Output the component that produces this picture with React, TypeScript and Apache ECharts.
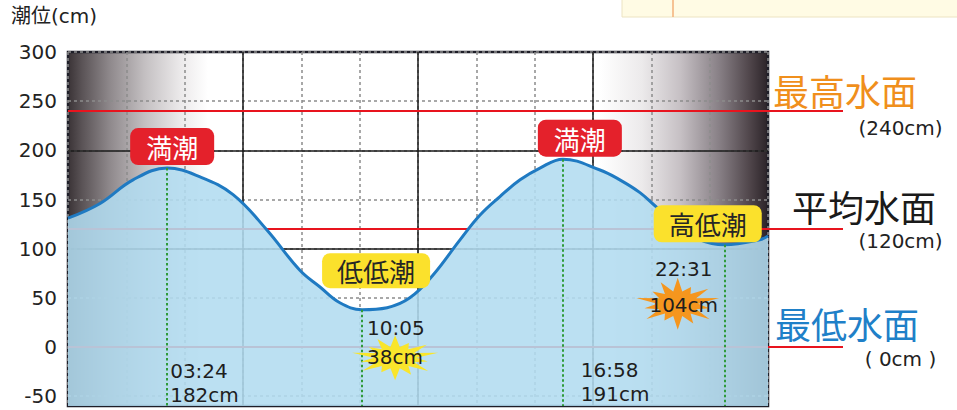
import React, { useEffect, useRef } from 'react';
import * as echarts from 'echarts';

// ---------- data ----------
const yTicks = [-50, 0, 50, 100, 150, 200, 250, 300];
const curveHours = [0, 1.1, 2.23, 4.53, 5.66, 6.82, 7.95, 8.64, 9.32, 10.94, 11.72, 12.51, 13.44, 14.12, 14.81, 15.5, 16.18, 18.24, 18.92, 19.61, 20.19, 20.98, 21.67, 23.72, 24];
const curveLevels = [131, 146, 170, 173, 155, 119, 78, 61, 45, 40, 50, 73, 109, 134, 153, 170, 182, 180, 170, 157, 142, 124, 109, 109, 113];
const extremeTimes = ['03:24', '10:05', '16:58', '22:31'];
const extremeLevels = [182, 38, 191, 104];
const extremeNames = ['満潮', '低低潮', '満潮', '高低潮'];
const datumNames = ['最高水面', '平均水面', '最低水面'];
const datumLevels = [240, 120, 0];
const datumNotes = ['(240cm)', '(120cm)', '( 0cm )'];
const solidHourLines = [6, 12, 18];
const solidLevelLines = [100, 200];

// ---------- styles ----------
const FONT_NUM = "'DejaVu Sans', 'Noto Sans CJK JP', sans-serif";
const FONT_CJK = "'Noto Sans CJK JP', 'Noto Sans CJK SC', sans-serif";
const RED = '#e8141e';

const nameBoxStyles = [
  { bg: '#e4212b', color: '#ffffff', offset: [5, -21.5], padding: [5, 16] },
  { bg: '#fbe12c', color: '#262626', offset: [14, -39], padding: [4, 15] },
  { bg: '#e4212b', color: '#ffffff', offset: [17, -21], padding: [5, 16] },
  { bg: '#fbe12c', color: '#262626', offset: [-17, -21], padding: [5, 15] },
];
const timeLabelStyles = [
  { offset: [3, 190.5], align: 'left', lineHeight: 24 },
  { offset: [5, 3.5], align: 'left', lineHeight: 29 },
  { offset: [18, 199], align: 'left', lineHeight: 24 },
  { offset: [-41, 6], align: 'center', lineHeight: 36 },
];
const starStyles: Record<number, { color: string; size: number[]; offset: number[] }> = {
  1: { color: '#f9e52b', size: [86, 45], offset: [33, 48] },
  3: { color: '#f5961e', size: [83, 52], offset: [-47, 59] },
};
const datumStyles = [
  { color: '#f08f1c', dx: 5, dy: -21, noteDy: 16.5 },
  { color: '#1a1a1a', dx: 24, dy: -23.5, noteDy: 12 },
  { color: '#1f80c8', dx: 7, dy: -24.5, noteDy: 12 },
];

function starPath(radii: number[], inner: number) {
  const n = radii.length;
  let d = '';
  for (let i = 0; i < n; i++) {
    const a0 = (i / n) * Math.PI * 2 - Math.PI / 2;
    const a1 = ((i + 0.5) / n) * Math.PI * 2 - Math.PI / 2;
    const ox = 50 + radii[i] * Math.cos(a0);
    const oy = 50 + radii[i] * Math.sin(a0);
    const ix = 50 + inner * Math.cos(a1);
    const iy = 50 + inner * Math.sin(a1);
    d += (i === 0 ? 'M' : 'L') + ox.toFixed(1) + ' ' + oy.toFixed(1) + 'L' + ix.toFixed(1) + ' ' + iy.toFixed(1);
  }
  return 'path://' + d + 'Z';
}
const STAR = starPath([50, 36, 46, 50, 38, 48, 42, 50, 36, 47, 40, 50, 38, 46], 24);

const toHours = (s: string) => {
  const [h, m] = s.split(':').map(Number);
  return h + m / 60;
};

const extremes = extremeTimes.map((t, i) => ({ t, h: toHours(t), v: extremeLevels[i], name: extremeNames[i] }));
const tidePoints = [
  ...curveHours.map((h, i) => [h, curveLevels[i]]),
  ...extremes.map((e) => [e.h, e.v]),
].sort((a, b) => a[0] - b[0]);

const ghost = (name: string, z: number) => ({
  name,
  type: 'line',
  data: tidePoints,
  z,
  silent: true,
  showSymbol: false,
  symbol: 'none',
  lineStyle: { opacity: 0, width: 0 },
  tooltip: { show: false },
});

export default function App() {
  const ref = useRef<HTMLDivElement>(null);
  useEffect(() => {
    const chart = echarts.init(ref.current!, null, { renderer: 'svg' });
    const bgGradient = new echarts.graphic.LinearGradient(0, 0, 1, 0, [
      { offset: 0, color: '#3a3336' },
      { offset: 0.02, color: '#5a5356' },
      { offset: 0.06, color: '#8f898c' },
      { offset: 0.11, color: '#c4c0c2' },
      { offset: 0.16, color: '#ebe9ea' },
      { offset: 0.2, color: '#ffffff' },
      { offset: 0.76, color: '#ffffff' },
      { offset: 0.82, color: '#eceaeb' },
      { offset: 0.875, color: '#c6c0c4' },
      { offset: 0.93, color: '#888086' },
      { offset: 0.975, color: '#4e4449' },
      { offset: 1, color: '#2b2328' },
    ]);

    const option: any = {
      animation: false,
      backgroundColor: '#ffffff',
      title: {
        text: '潮位(cm)',
        left: 11,
        top: 6,
        padding: 0,
        textStyle: { fontSize: 20, fontWeight: 'normal', color: '#222', fontFamily: FONT_NUM },
      },
      grid: {
        left: 68,
        right: 189,
        top: 52,
        bottom: 4,
        show: true,
        backgroundColor: bgGradient,
        borderColor: '#1e1e28',
        borderWidth: 2.5,
      },
      xAxis: {
        type: 'value',
        min: 0,
        max: 24,
        interval: 2,
        axisLabel: { show: false },
        axisTick: { show: false },
        axisLine: { show: false },
        splitLine: { show: true, lineStyle: { color: '#8c8c8c', type: [3, 3], width: 1.5 } },
      },
      yAxis: {
        type: 'value',
        min: -60,
        max: 300,
        axisLabel: {
          customValues: yTicks,
          fontSize: 20,
          color: '#222',
          fontFamily: FONT_NUM,
          margin: 11,
        },
        axisTick: { show: false, customValues: yTicks },
        axisLine: { show: false },
        splitLine: { show: true, lineStyle: { color: '#8c8c8c', type: [3, 3], width: 1.5 } },
      },
      series: [
        {
          ...ghost('grid', 1),
          markLine: {
            silent: true,
            z: 1,
            symbol: ['none', 'none'],
            label: { show: false },
            data: [
              ...solidLevelLines.map((v) => ({ yAxis: v, lineStyle: { color: '#1a1a1a', width: 1.5, type: 'solid' } })),
              ...solidHourLines.map((h) => ({ xAxis: h, lineStyle: { color: '#1a1a1a', width: 1.5, type: 'solid' } })),
              ...datumLevels.map((v) => ({ yAxis: v, lineStyle: { color: RED, width: 2, type: 'solid' } })),
            ],
          },
        },
        {
          name: '潮位',
          type: 'line',
          data: tidePoints,
          smooth: 0.4,
          showSymbol: false,
          symbol: 'none',
          z: 2,
          lineStyle: { color: '#1f7ac2', width: 3 },
          areaStyle: { color: 'rgb(178,220,240)', opacity: 0.88, origin: 'start' },
          markLine: {
            silent: true,
            z: 4,
            symbol: ['none', 'none'],
            label: { show: false },
            lineStyle: { color: '#2f9a3a', type: [2.5, 2.5], width: 2 },
            data: extremes.map((e) => [{ coord: [e.h, e.v] }, { coord: [e.h, -60] }]),
          },
        },
        {
          ...ghost('stars', 5),
          markPoint: {
            silent: true,
            z: 5,
            label: { show: false },
            data: extremes
              .map((e, i) => ({ e, i }))
              .filter(({ i }) => starStyles[i])
              .map(({ e, i }) => ({
                coord: [e.h, e.v],
                symbol: STAR,
                symbolSize: starStyles[i].size,
                symbolOffset: starStyles[i].offset,
                symbolKeepAspect: false,
                itemStyle: { color: starStyles[i].color },
                label: { show: false },
              })),
          },
        },
        {
          ...ghost('labels', 6),
          markPoint: {
            silent: true,
            z: 6,
            data: [
              ...extremes.map((e, i) => ({
                coord: [e.h, e.v],
                symbol: 'circle',
                symbolSize: 1,
                itemStyle: { color: 'transparent' },
                label: {
                  show: true,
                  position: 'inside',
                  offset: nameBoxStyles[i].offset,
                  formatter: e.name,
                  fontSize: 26,
                  lineHeight: 27,
                  fontFamily: FONT_CJK,
                  color: nameBoxStyles[i].color,
                  backgroundColor: nameBoxStyles[i].bg,
                  borderRadius: 8,
                  padding: nameBoxStyles[i].padding,
                },
              })),
              ...extremes.map((e, i) => ({
                coord: [e.h, e.v],
                symbol: 'circle',
                symbolSize: 1,
                itemStyle: { color: 'transparent' },
                label: {
                  show: true,
                  position: 'inside',
                  offset: timeLabelStyles[i].offset,
                  align: timeLabelStyles[i].align,
                  verticalAlign: 'top',
                  formatter: e.t + '\n' + e.v + 'cm',
                  fontSize: 20,
                  lineHeight: timeLabelStyles[i].lineHeight,
                  fontFamily: FONT_NUM,
                  color: '#1e1e1e',
                },
              })),
            ],
          },
        },
      ],
    };
    chart.setOption(option);

    const right = chart.convertToPixel({ gridIndex: 0 }, [24, 0]) as number[];
    const xr = right[0];
    const graphics: any[] = [
      {
        type: 'rect',
        shape: { x: 622, y: -2, width: 340, height: 19 },
        style: { fill: '#fffbe4', stroke: '#ece3c2', lineWidth: 1 },
        silent: true,
      },
      {
        type: 'line',
        shape: { x1: 673, y1: 0, x2: 673, y2: 17 },
        style: { stroke: '#f3b07a', lineWidth: 1.5 },
        silent: true,
      },
    ];
    datumLevels.forEach((v, i) => {
      const y = (chart.convertToPixel({ gridIndex: 0 }, [24, v]) as number[])[1];
      const st = datumStyles[i];
      graphics.push({
        type: 'line',
        shape: { x1: xr, y1: y, x2: xr + 75, y2: y },
        style: { stroke: RED, lineWidth: 2 },
        silent: true,
      });
      graphics.push({
        type: 'text',
        x: xr + st.dx,
        y: y + st.dy,
        style: {
          text: datumNames[i],
          fill: st.color,
          fontSize: 36,
          lineHeight: 32,
          fontFamily: FONT_CJK,
          align: 'left',
          verticalAlign: 'middle',
        },
        silent: true,
      });
      graphics.push({
        type: 'text',
        x: xr + 132.5,
        y: y + st.noteDy,
        style: {
          text: datumNotes[i],
          fill: '#222',
          fontSize: 20,
          lineHeight: 18,
          fontFamily: FONT_NUM,
          align: 'center',
          verticalAlign: 'middle',
        },
        silent: true,
      });
    });
    chart.setOption({ graphic: graphics });

    return () => chart.dispose();
  }, []);
  return (
    <div
      ref={ref}
      style={{ position: 'fixed', left: 0, top: 0, width: 957, height: 410, background: '#fff' }}
    />
  );
}
